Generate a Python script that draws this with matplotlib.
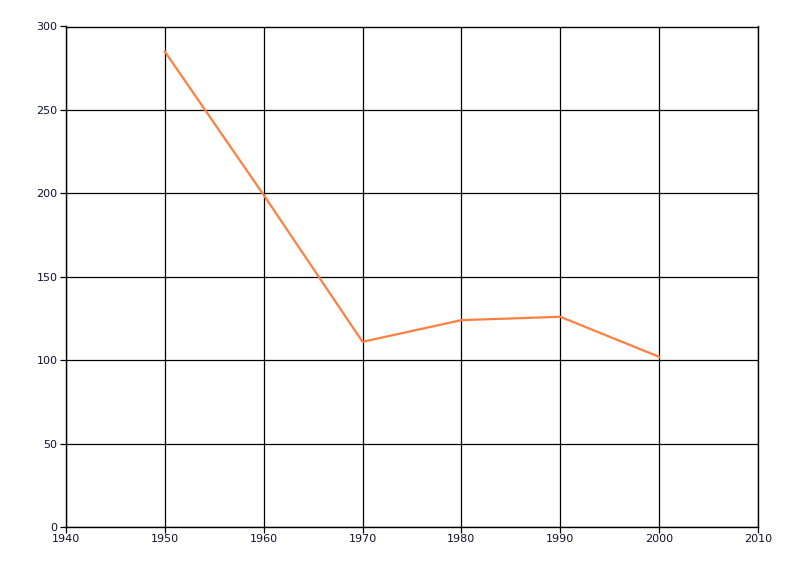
import matplotlib
matplotlib.use("Agg")
import matplotlib.pyplot as plt

years = [1950, 1960, 1970, 1980, 1990, 2000]
values = [285, 199, 111, 124, 126, 102]

x_ticks = [1940, 1950, 1960, 1970, 1980, 1990, 2000, 2010]
y_ticks = [0, 50, 100, 150, 200, 250, 300]

fig = plt.figure(figsize=(8, 5.76), dpi=100)
ax = fig.add_axes([66 / 800, 49 / 576, 692 / 800, 500.5 / 576])

ax.plot(years, values, color="#ff7f3f", linewidth=1.6, zorder=3)

ax.set_xlim(1940, 2010)
ax.set_ylim(0, 300)
ax.set_xticks(x_ticks)
ax.set_yticks(y_ticks)
ax.grid(True, color="black", linewidth=0.9)
ax.set_axisbelow(True)

# all four edges drawn as plain black lines
for side in ["left", "bottom", "top", "right"]:
    ax.spines[side].set_linewidth(1.0)
    ax.spines[side].set_color("black")

ax.tick_params(axis="both", direction="out", length=4, width=0.9,
               labelsize=8, labelcolor="#101030", pad=2)
ax.tick_params(axis="x", pad=1)

fig.savefig("out.png", dpi=100)
